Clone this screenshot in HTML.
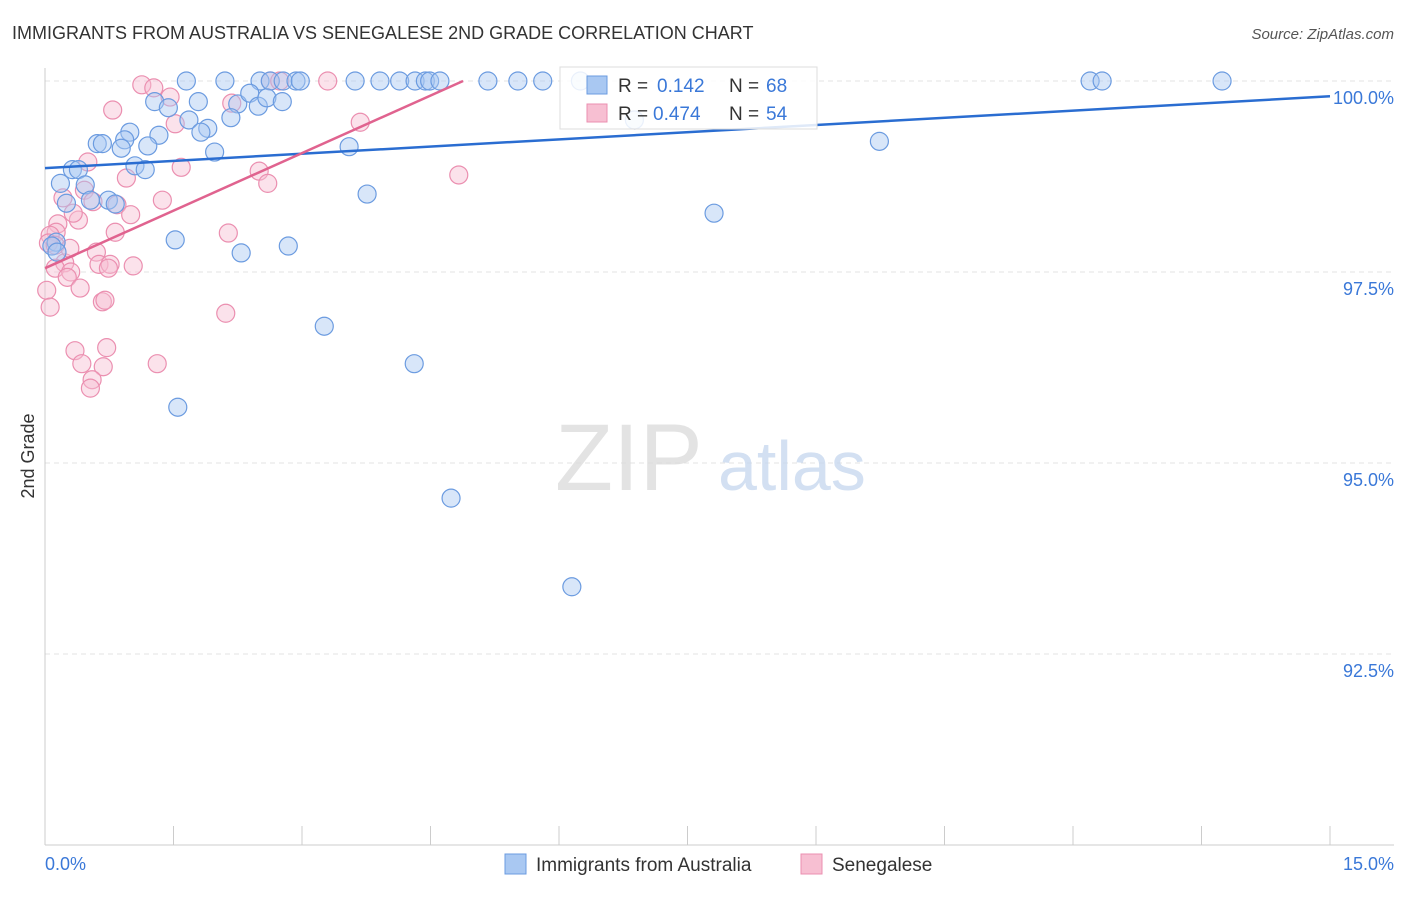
<!DOCTYPE html>
<html><head><meta charset="utf-8"><style>
body{margin:0;background:#fff;font-family:"Liberation Sans",sans-serif;}
svg text{font-family:"Liberation Sans",sans-serif;}
</style></head><body>
<svg id="chart" width="1406" height="892" xmlns="http://www.w3.org/2000/svg">
<text x="12" y="39" font-size="18" fill="#333">IMMIGRANTS FROM AUSTRALIA VS SENEGALESE 2ND GRADE CORRELATION CHART</text>
<text x="1394" y="39" font-size="15" fill="#555" text-anchor="end" font-style="italic">Source: ZipAtlas.com</text>
<g id="grid"></g>
<g id="axes"></g>
<text x="555" y="490" font-size="95" fill="#ddd" font-family="Liberation Serif" opacity="0.8">ZIP</text>
<text x="718" y="490" font-size="70" fill="#c9d9ef" opacity="0.8">atlas</text>
<g id="points"></g>
<g id="lines"></g>
<g>
<rect x="560" y="67" width="257" height="62" fill="#fff" fill-opacity="0.85" stroke="#ddd"/>
<rect x="587" y="76" width="20" height="18" fill="#a9c8f2" stroke="#6b9be0"/>
<rect x="587" y="104" width="20" height="18" fill="#f7bfd2" stroke="#eb8fb0"/>
<text x="618" y="92" font-size="19" fill="#333">R =</text>
<text x="657" y="92" font-size="19" fill="#3a78d8">0.142</text>
<text x="729" y="92" font-size="19" fill="#333">N =</text>
<text x="766" y="92" font-size="19" fill="#3a78d8">68</text>
<text x="618" y="120" font-size="19" fill="#333">R =</text>
<text x="653" y="120" font-size="19" fill="#3a78d8">0.474</text>
<text x="729" y="120" font-size="19" fill="#333">N =</text>
<text x="766" y="120" font-size="19" fill="#3a78d8">54</text>
</g>
<text transform="translate(34,456) rotate(-90)" font-size="18" fill="#333" text-anchor="middle">2nd Grade</text>
<text x="45" y="870" font-size="18" fill="#3a78d8">0.0%</text>
<text x="1394" y="870" font-size="18" fill="#3a78d8" text-anchor="end">15.0%</text>
<g>
<rect x="505" y="854" width="21" height="20" fill="#a9c8f2" stroke="#6b9be0"/>
<text x="536" y="871" font-size="19" fill="#333">Immigrants from Australia</text>
<rect x="801" y="854" width="21" height="20" fill="#f7bfd2" stroke="#eb8fb0"/>
<text x="832" y="871" font-size="19" fill="#333">Senegalese</text>
</g>
</svg>
<script>
const yTicks=[100,97.5,95,92.5];
const yTickLabels=["100.0%","97.5%","95.0%","92.5%"];
const xTicks=[0,1.5,3,4.5,6,7.5,9,10.5,12,13.5,15];
const blueX=[1.65,2.10,2.51,2.63,2.78,2.93,2.98,3.62,3.91,4.14,4.32,4.44,4.49,4.61,5.17,5.52,5.81,6.25,12.20,12.34,13.74,1.28,1.44,1.79,2.25,2.39,2.49,2.59,2.77,1.68,2.17,1.90,1.82,1.33,0.99,0.93,0.61,0.67,0.89,1.20,1.98,1.05,1.17,0.32,0.39,0.18,0.47,0.25,0.53,0.74,0.82,0.13,0.08,0.14,1.52,2.29,2.84,3.55,3.76,3.26,4.31,1.55,4.74,6.15,7.81,9.74,6.88];
const blueY=[100,100,100,100,100,100,100,100,100,100,100,100,100,100,100,100,100,100,100,100,100,99.73,99.65,99.73,99.70,99.84,99.67,99.78,99.73,99.49,99.52,99.38,99.33,99.29,99.33,99.23,99.18,99.18,99.12,99.15,99.07,98.89,98.84,98.84,98.84,98.66,98.64,98.40,98.44,98.44,98.39,97.89,97.84,97.76,97.92,97.75,97.84,99.14,98.52,96.79,96.30,95.73,94.54,93.38,98.27,99.21,99.49];
const pinkX=[1.13,1.27,1.46,0.79,1.52,1.59,2.63,2.74,3.30,2.18,3.68,4.83,2.50,2.60,0.95,0.50,0.46,0.21,0.56,0.84,1.37,1.00,0.39,0.33,0.15,0.13,0.06,0.04,0.12,0.82,2.14,0.60,0.23,0.63,0.76,1.03,0.12,0.30,0.26,0.74,0.41,0.02,0.06,0.67,0.70,2.11,0.35,0.72,0.43,0.68,1.31,0.55,0.53,0.29];
const pinkY=[99.95,99.91,99.79,99.62,99.44,98.87,100,100,100,99.71,99.46,98.77,98.82,98.66,98.73,98.94,98.57,98.47,98.42,98.38,98.44,98.25,98.18,98.27,98.13,98.02,97.98,97.88,97.85,98.02,98.01,97.76,97.62,97.60,97.60,97.58,97.55,97.50,97.43,97.55,97.29,97.26,97.04,97.11,97.13,96.96,96.47,96.51,96.30,96.26,96.30,96.09,95.98,97.81];
const blueTrend=[[0,98.86],[15,99.80]];
const pinkTrend=[[0,97.55],[4.88,100]];
const NS="http://www.w3.org/2000/svg";
const X=v=>45+v*(1285/15);
const Y=v=>845-(v-90)*76.4;
function mk(tag,attrs,parent){const e=document.createElementNS(NS,tag);for(const k in attrs)e.setAttribute(k,attrs[k]);parent.appendChild(e);return e;}
const grid=document.getElementById('grid'),axes=document.getElementById('axes'),pts=document.getElementById('points'),lines=document.getElementById('lines');
yTicks.forEach((t,i)=>{
 const l=mk('line',{x1:45,x2:1394,y1:Y(t),y2:Y(t),stroke:'#e3e3e3','stroke-dasharray':'5,4'},grid);
 
 
 const tx=mk('text',{x:1394,y:Y(t)+23,'font-size':18,fill:'#3a78d8','text-anchor':'end'},axes);
 tx.textContent=yTickLabels[i];
 
 
});
const yl=mk('line',{x1:45,x2:45,y1:68,y2:845,stroke:'#ccc'},axes);


const xl=mk('line',{x1:45,x2:1394,y1:845,y2:845,stroke:'#ccc'},axes);


xTicks.forEach(t=>{
 const l=mk('line',{x1:X(t),x2:X(t),y1:826,y2:845,stroke:'#ccc'},axes);
 
 
});
function drawPts(xs,ys,fill,stroke,name){
 xs.forEach((x,i)=>{
  const c=mk('circle',{cx:X(x),cy:Y(ys[i]),r:9,fill:fill,'fill-opacity':0.45,stroke:stroke,'stroke-width':1.2},pts);
  
  
 });
}
drawPts(pinkX,pinkY,'#f7bfd2','#eb8fb0','senegalese-point');
drawPts(blueX,blueY,'#a9c8f2','#6b9be0','australia-point');
const bl=mk('line',{x1:X(blueTrend[0][0]),y1:Y(blueTrend[0][1]),x2:X(blueTrend[1][0]),y2:Y(blueTrend[1][1]),stroke:'#2a6dd1','stroke-width':2.5},lines);


const pl=mk('line',{x1:X(pinkTrend[0][0]),y1:Y(pinkTrend[0][1]),x2:X(pinkTrend[1][0]),y2:Y(pinkTrend[1][1]),stroke:'#e0638f','stroke-width':2.5},lines);


</script>
</body></html>
